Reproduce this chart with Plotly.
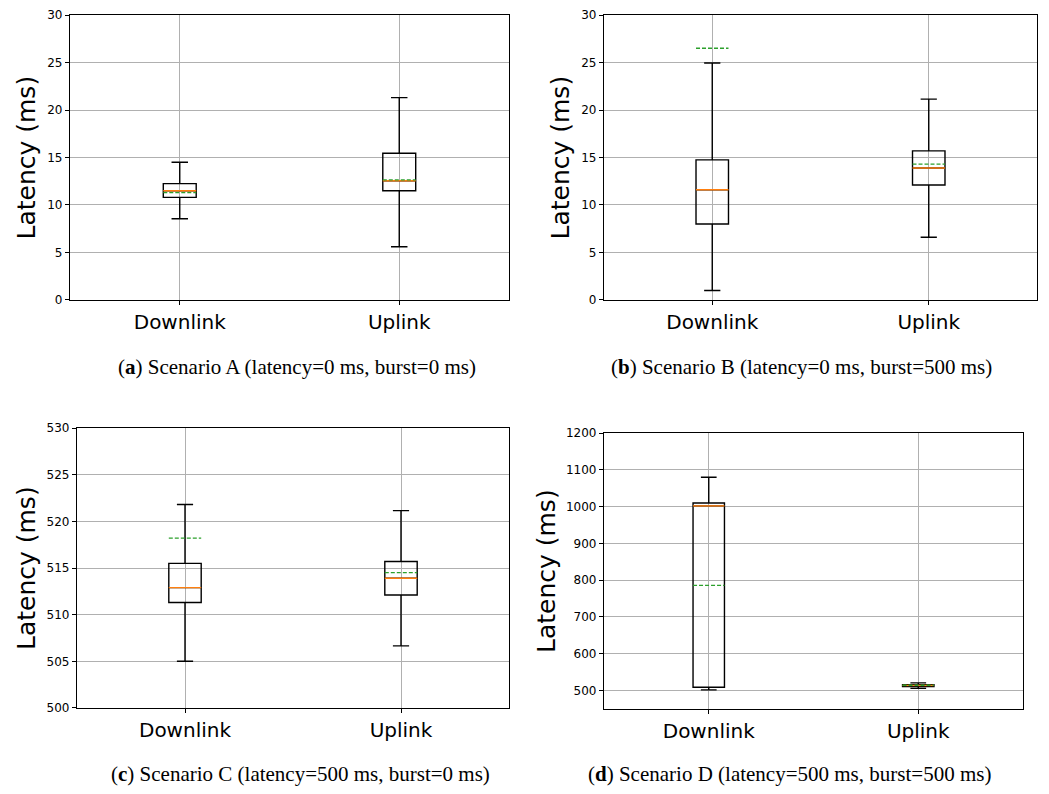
import plotly.graph_objects as go

categories = ["Downlink", "Uplink"]
positions = [1, 2]
box_width = 0.15

# Panel data: [Downlink, Uplink]
a_low = [8.55, 5.6]
a_q1 = [10.8, 11.5]
a_med = [11.5, 12.55]
a_mean = [11.3, 12.65]
a_q3 = [12.25, 15.45]
a_high = [14.5, 21.3]

b_low = [1.0, 6.6]
b_q1 = [8.0, 12.1]
b_med = [11.6, 13.9]
b_mean = [26.5, 14.3]
b_q3 = [14.75, 15.7]
b_high = [24.95, 21.15]

c_low = [505.0, 506.65]
c_q1 = [511.3, 512.1]
c_med = [512.9, 513.9]
c_mean = [518.2, 514.5]
c_q3 = [515.5, 515.7]
c_high = [521.8, 521.15]

d_low = [502.0, 506.0]
d_q1 = [509.0, 511.0]
d_med = [1002.0, 514.0]
d_mean = [786.0, 514.5]
d_q3 = [1010.0, 516.0]
d_high = [1080.0, 521.0]

captions = [
    "(<b>a</b>) Scenario A (latency=0 ms, burst=0 ms)",
    "(<b>b</b>) Scenario B (latency=0 ms, burst=500 ms)",
    "(<b>c</b>) Scenario C (latency=500 ms, burst=0 ms)",
    "(<b>d</b>) Scenario D (latency=500 ms, burst=500 ms)",
]

y_ranges = [[0, 30], [0, 30], [500, 530], [450, 1200]]
y_ticks = [list(range(0, 31, 5)), list(range(0, 31, 5)),
           list(range(500, 531, 5)), list(range(500, 1201, 100))]

# page body margin offset (px) compensated so the figure lands at window coords
OFF = 8
W, H = 1049 - 2 * OFF, 794 - 2 * OFF
# plot-area window-pixel boxes (left, right, top, bottom)
boxes = [(70, 509, 15, 300), (604, 1037, 15, 300),
         (77, 509, 428, 708), (604, 1023, 433, 709)]
ytitle_x = [26, 560, 26, 546]
cap_pos = [(297, 367), (801, 367), (300, 774), (789, 774)]

panels = [
    (a_low, a_q1, a_med, a_mean, a_q3, a_high),
    (b_low, b_q1, b_med, b_mean, b_q3, b_high),
    (c_low, c_q1, c_med, c_mean, c_q3, c_high),
    (d_low, d_q1, d_med, d_mean, d_q3, d_high),
]

def px(v):
    return (v - OFF) / W

def py(v):
    return 1 - (v - OFF) / H

fig = go.Figure()
layout = dict(width=W, height=H, margin=dict(l=0, r=0, t=0, b=0, autoexpand=False),
              paper_bgcolor="white", plot_bgcolor="white", showlegend=False,
              font=dict(family="DejaVu Sans", color="black"))
annotations = []

def seg(vals):
    xs, ys = [], []
    for p, v in zip(positions, vals):
        xs += [p - box_width / 2, p + box_width / 2, None]
        ys += [v, v, None]
    return xs, ys

for i, (low, q1, med, mean, q3, high) in enumerate(panels):
    n = "" if i == 0 else str(i + 1)
    xa, ya = "x" + n, "y" + n
    fig.add_trace(go.Box(
        x=positions, q1=q1, median=med, q3=q3, lowerfence=low, upperfence=high,
        width=box_width, whiskerwidth=0.5, boxpoints=False,
        line=dict(color="black", width=1.4), fillcolor="rgba(0,0,0,0)",
        xaxis=xa, yaxis=ya, hoverinfo="skip"))
    mx, my = seg(med)
    fig.add_trace(go.Scatter(x=mx, y=my, mode="lines",
                             line=dict(color="#ff7f0e", width=1.4),
                             xaxis=xa, yaxis=ya, hoverinfo="skip"))
    ex, ey = seg(mean)
    fig.add_trace(go.Scatter(x=ex, y=ey, mode="lines",
                             line=dict(color="#2ca02c", width=1.3, dash="4px,2px"),
                             xaxis=xa, yaxis=ya, hoverinfo="skip"))
    l, r, t, b = boxes[i]
    lo, hi = y_ranges[i]
    eps = (hi - lo) * 1e-4
    layout["xaxis" + n] = dict(
        domain=[px(l), px(r)], anchor=ya, range=[0.5, 2.5], automargin=False,
        tickmode="array", tickvals=positions, ticktext=categories,
        showgrid=True, gridcolor="#b0b0b0", gridwidth=0.8,
        showline=True, linecolor="black", linewidth=1.2, mirror=True,
        ticks="outside", ticklen=4, tickcolor="black", zeroline=False,
        tickfont=dict(size=20, family="DejaVu Sans", color="black"))
    layout["yaxis" + n] = dict(
        domain=[py(b), py(t)], anchor=xa, range=[lo - eps, hi + eps], automargin=False,
        tickmode="array", tickvals=y_ticks[i],
        showgrid=True, gridcolor="#b0b0b0", gridwidth=0.8,
        showline=True, linecolor="black", linewidth=1.2, mirror=True,
        ticks="outside", ticklen=4, tickcolor="black", zeroline=False,
        tickfont=dict(size=12, family="DejaVu Sans", color="black"))
    annotations.append(dict(
        text="Latency (ms)", textangle=-90, xref="paper", yref="paper",
        x=px(ytitle_x[i]), y=py((t + b) / 2), xanchor="center", yanchor="middle",
        showarrow=False, font=dict(size=25, family="DejaVu Sans", color="black")))
    cx, cy = cap_pos[i]
    annotations.append(dict(
        text=captions[i], xref="paper", yref="paper",
        x=px(cx), y=py(cy), xanchor="center", yanchor="middle",
        showarrow=False, font=dict(size=21, family="Liberation Serif", color="black")))

layout["annotations"] = annotations
fig.update_layout(**layout)
fig.write_html("out.html")
